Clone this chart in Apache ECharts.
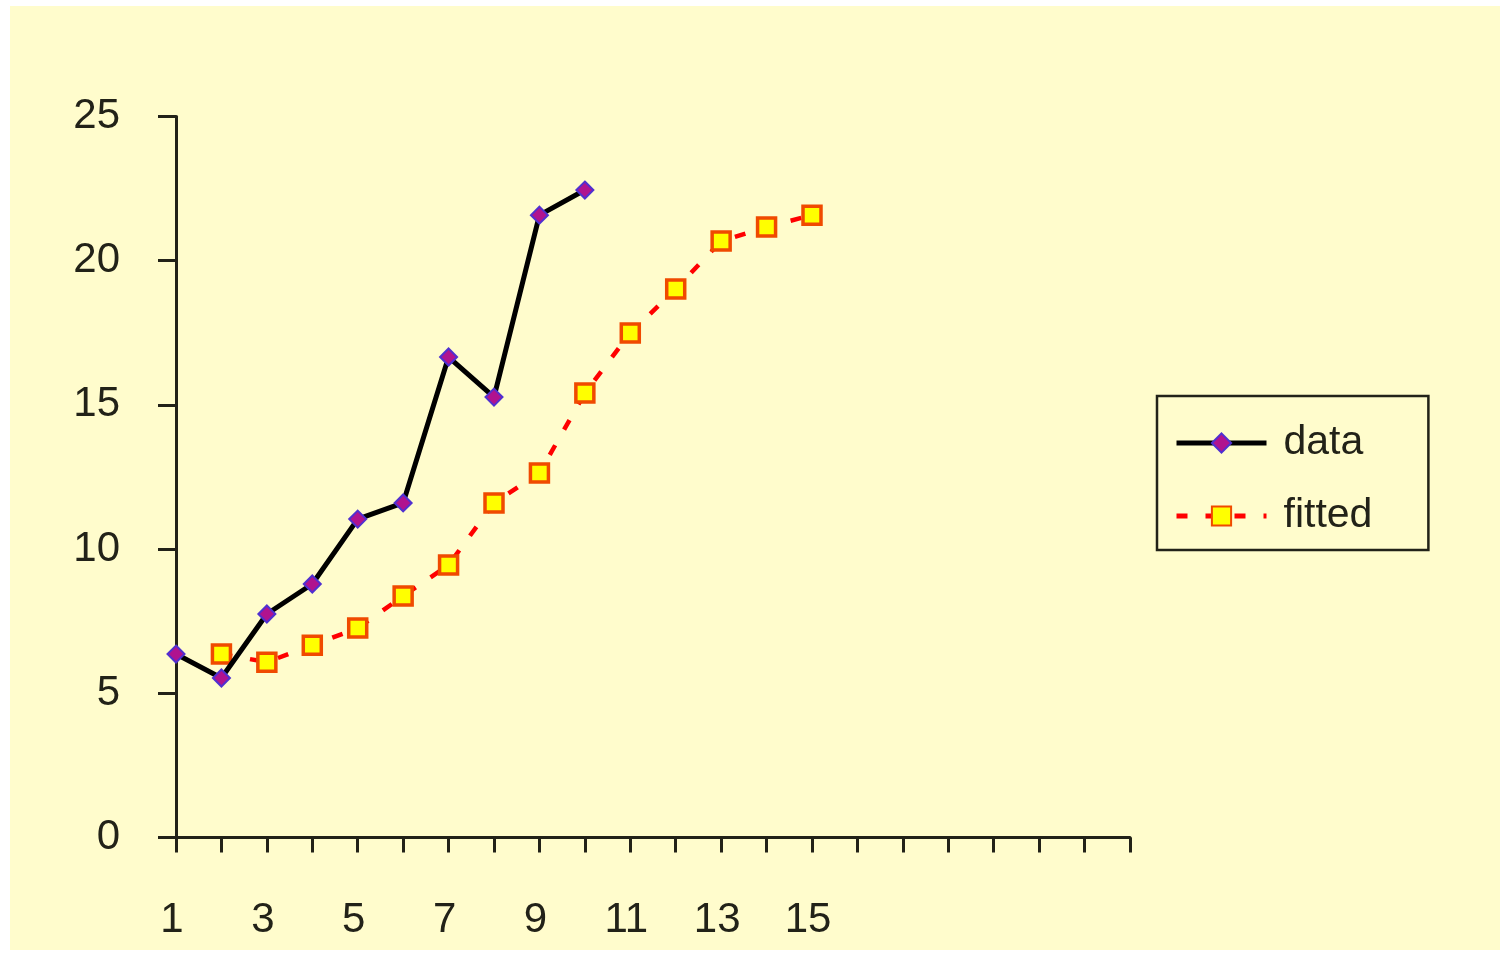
<!DOCTYPE html>
<html>
<head>
<meta charset="utf-8">
<script src="https://cdn.jsdelivr.net/npm/echarts@6/dist/echarts.min.js"></script>
<style>
  html, body { margin: 0; padding: 0; background: #ffffff; }
  #bg { position: absolute; left: 10px; top: 6px; width: 1490px; height: 944px; background: #FFFCCC; }
  #chart { position: absolute; left: 0; top: 0; width: 1503px; height: 954px; }
</style>
</head>
<body>
<div id="bg"></div>
<div id="chart"></div>
<script>
const categories = ['1','2','3','4','5','6','7','8','9','10','11','12','13','14','15','','','','','','',''];
const dataValues = [6.36, 5.53, 7.75, 8.79, 11.04, 11.6, 16.66, 15.27, 21.58, 22.45];
const fittedValues = [null, 6.36, 6.08, 6.67, 7.26, 8.37, 9.45, 11.6, 12.64, 15.41, 17.49, 19.02, 20.68, 21.17, 21.58];
const yTicks = { min: 0, max: 25, interval: 5 };

const chart = echarts.init(document.getElementById('chart'), null, { renderer: 'canvas' });
const font = 'Liberation Sans, Arial, sans-serif';
const ink = '#222218';
chart.setOption({
  backgroundColor: 'transparent',
  animation: false,
  grid: { left: 176, right: 373, top: 116.5, bottom: 116.5, containLabel: false },
  xAxis: {
    type: 'category',
    data: categories,
    boundaryGap: false,
    axisLine: { lineStyle: { color: ink, width: 3 } },
    axisTick: { show: true, interval: 0, length: 15, lineStyle: { color: ink, width: 3 } },
    axisLabel: { interval: 1, margin: 62, fontSize: 42, fontFamily: font, color: ink, padding: [0, 8, 0, 0] },
    splitLine: { show: false }
  },
  yAxis: {
    type: 'value',
    min: yTicks.min, max: yTicks.max, interval: yTicks.interval,
    axisLine: { show: true, lineStyle: { color: ink, width: 3 } },
    axisTick: { show: true, length: 18, lineStyle: { color: ink, width: 3 } },
    axisLabel: { margin: 56, fontSize: 42, fontFamily: font, color: ink, padding: [0, 0, 6, 0] },
    splitLine: { show: false }
  },
  legend: {
    orient: 'vertical',
    left: 1157, top: 396,
    backgroundColor: 'transparent',
    borderColor: ink, borderWidth: 2.5, borderRadius: 0,
    padding: [25, 56, 12, 17],
    itemWidth: 90, itemHeight: 24, itemGap: 29,
    lineStyle: { width: 5 },
    textStyle: { fontSize: 41, fontFamily: font, color: ink, lineHeight: 44, padding: [0, 0, 0, 12] },
    data: ['data', 'fitted']
  },
  series: [
    {
      name: 'data', type: 'line', data: dataValues,
      symbol: 'diamond', symbolSize: 17,
      lineStyle: { color: '#000000', width: 5 },
      itemStyle: { color: '#B0138F', borderColor: '#5030D0', borderWidth: 2 },
      z: 3
    },
    {
      name: 'fitted', type: 'line', data: fittedValues,
      symbol: 'rect', symbolSize: 18,
      lineStyle: { color: '#FF0000', width: 4.5, type: [11, 18] },
      itemStyle: { color: '#FFFF00', borderColor: '#F04A00', borderWidth: 3.5 },
      z: 2
    }
  ]
});
</script>
</body>
</html>
